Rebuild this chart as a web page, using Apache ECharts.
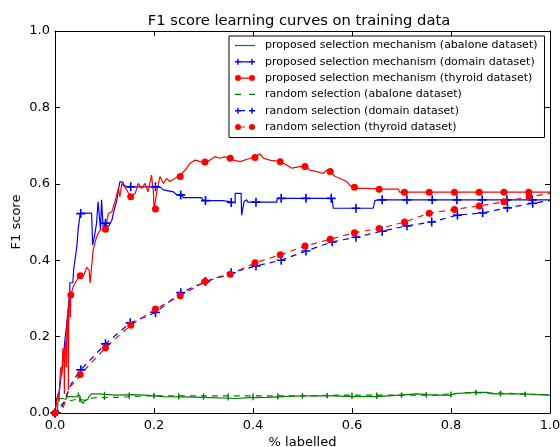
<!DOCTYPE html>
<html>
<head>
<meta charset="utf-8">
<script src="https://cdn.jsdelivr.net/npm/echarts@6/dist/echarts.min.js"></script>
<style>
  html, body { margin: 0; padding: 0; background: #fff; }
  #chart { width: 560px; height: 447px; }
</style>
</head>
<body>
<div id="chart"></div>
<script>
// ---- data: [fraction labelled, F1 score] ----
const xTicks = [0, 0.2, 0.4, 0.6, 0.8, 1.0];
const yTicks = [0, 0.2, 0.4, 0.6, 0.8, 1.0];

const seriesNames = [
  'proposed selection mechanism (abalone dataset)',
  'proposed selection mechanism (domain dataset)',
  'proposed selection mechanism (thyroid dataset)',
  'random selection (abalone dataset)',
  'random selection (domain dataset)',
  'random selection (thyroid dataset)'
];

const abaloneProposed = [
  [0,0],[0.005,0],[0.006,0.03],[0.009,0.03],[0.01,0.038],[0.015,0.038],[0.017,0.035],[0.022,0.036],
  [0.025,0.043],[0.032,0.043],[0.035,0.04],[0.04,0.042],[0.044,0.045],[0.05,0.047],[0.052,0.032],
  [0.057,0.025],[0.06,0.025],[0.061,0.034],[0.066,0.035],[0.068,0.042],[0.071,0.047],[0.074,0.05],
  [0.09,0.05],[0.1,0.049],[0.125,0.047],[0.158,0.048],[0.19,0.046],[0.219,0.043],[0.26,0.042],
  [0.3,0.041],[0.367,0.038],[0.394,0.04],[0.43,0.041],[0.461,0.043],[0.495,0.045],[0.562,0.045],
  [0.6,0.043],[0.65,0.043],[0.697,0.047],[0.731,0.05],[0.764,0.047],[0.798,0.047],[0.812,0.051],
  [0.845,0.054],[0.872,0.054],[0.885,0.05],[0.933,0.05],[0.966,0.049],[1.0,0.047]
];
const abaloneProposedMarks = [
  [0.047,0.047],[0.1,0.049],[0.15,0.048],[0.2,0.045],[0.25,0.042],[0.3,0.041],[0.35,0.039],
  [0.4,0.04],[0.45,0.042],[0.5,0.045],[0.55,0.045],[0.6,0.043],[0.65,0.043],[0.7,0.047],
  [0.75,0.048],[0.8,0.047],[0.85,0.054],[0.9,0.05],[0.95,0.049]
];

const domainProposed = [
  [0,0],[0.003,0.034],[0.009,0.06],[0.013,0.104],[0.017,0.147],[0.02,0.191],[0.024,0.235],
  [0.027,0.278],[0.03,0.322],[0.03,0.341],[0.036,0.341],[0.038,0.379],[0.042,0.381],[0.044,0.435],
  [0.047,0.484],[0.051,0.523],[0.074,0.523],[0.076,0.44],[0.079,0.457],[0.084,0.497],[0.087,0.553],
  [0.089,0.549],[0.092,0.479],[0.094,0.558],[0.096,0.514],[0.098,0.475],[0.101,0.497],[0.108,0.488],
  [0.115,0.505],[0.118,0.523],[0.125,0.558],[0.128,0.584],[0.131,0.605],[0.137,0.605],[0.139,0.597],
  [0.145,0.592],[0.212,0.592],[0.219,0.584],[0.239,0.579],[0.246,0.571],[0.256,0.571],[0.259,0.564],
  [0.296,0.564],[0.3,0.556],[0.34,0.556],[0.343,0.552],[0.364,0.551],[0.364,0.575],[0.376,0.575],
  [0.377,0.518],[0.379,0.518],[0.382,0.553],[0.387,0.558],[0.39,0.552],[0.448,0.552],[0.449,0.562],
  [0.56,0.562],[0.562,0.536],[0.643,0.536],[0.646,0.556],[0.652,0.558],[1.0,0.558]
];
const domainProposedMarks = [
  [0,0],[0.052,0.522],[0.102,0.497],[0.153,0.592],[0.203,0.592],[0.254,0.571],[0.304,0.556],
  [0.356,0.551],[0.406,0.552],[0.457,0.562],[0.507,0.562],[0.558,0.562],[0.608,0.536],[0.661,0.558],
  [0.711,0.558],[0.762,0.558],[0.812,0.558],[0.863,0.558],[0.913,0.558],[0.964,0.558]
];

const thyroidProposed = [
  [0,0],[0.004,0],[0.006,0.05],[0.008,0.03],[0.01,0.09],[0.012,0.12],[0.014,0.1],[0.016,0.17],
  [0.018,0.15],[0.019,0.05],[0.02,0.17],[0.022,0.19],[0.023,0.12],[0.024,0.23],[0.026,0.27],
  [0.027,0.06],[0.028,0.29],[0.03,0.3],[0.031,0.25],[0.032,0.31],[0.034,0.31],[0.037,0.331],
  [0.04,0.33],[0.045,0.35],[0.051,0.359],[0.058,0.36],[0.064,0.381],[0.069,0.374],[0.071,0.34],
  [0.073,0.335],[0.077,0.427],[0.084,0.461],[0.091,0.479],[0.101,0.479],[0.104,0.48],[0.108,0.523],
  [0.115,0.527],[0.121,0.553],[0.128,0.588],[0.131,0.566],[0.135,0.601],[0.138,0.601],[0.145,0.584],
  [0.152,0.566],[0.162,0.575],[0.168,0.601],[0.175,0.588],[0.182,0.601],[0.188,0.579],[0.195,0.623],
  [0.199,0.575],[0.2,0.534],[0.204,0.534],[0.207,0.588],[0.212,0.619],[0.219,0.601],[0.226,0.614],
  [0.232,0.606],[0.242,0.614],[0.253,0.623],[0.263,0.636],[0.273,0.654],[0.283,0.662],[0.293,0.658],
  [0.303,0.655],[0.313,0.662],[0.323,0.671],[0.333,0.667],[0.343,0.671],[0.354,0.664],[0.374,0.658],
  [0.394,0.667],[0.404,0.671],[0.414,0.678],[0.421,0.667],[0.434,0.662],[0.455,0.658],[0.468,0.649],
  [0.478,0.641],[0.495,0.645],[0.505,0.645],[0.515,0.636],[0.529,0.632],[0.542,0.627],[0.549,0.636],
  [0.556,0.632],[0.566,0.619],[0.576,0.614],[0.589,0.606],[0.599,0.592],[0.609,0.588],[0.63,0.588],
  [0.657,0.586],[0.694,0.586],[0.696,0.578],[1.0,0.578]
];
const thyroidProposedMarks = [
  [0,0],[0.032,0.309],[0.051,0.359],[0.102,0.481],[0.153,0.566],[0.203,0.534],[0.253,0.619],
  [0.303,0.657],[0.354,0.667],[0.404,0.669],[0.455,0.658],[0.505,0.645],[0.556,0.632],[0.605,0.591],
  [0.655,0.586],[0.706,0.578],[0.756,0.578],[0.807,0.578],[0.857,0.578],[0.907,0.578],[0.957,0.578]
];

const abaloneRandom = [
  [0,0],[0.006,0],[0.008,0.015],[0.013,0.021],[0.017,0.027],[0.03,0.032],[0.044,0.036],[0.057,0.034],
  [0.064,0.032],[0.071,0.038],[0.081,0.04],[0.125,0.041],[0.192,0.045],[0.259,0.045],[0.327,0.045],
  [0.394,0.045],[0.461,0.045],[0.495,0.045],[0.596,0.047],[0.67,0.047],[0.764,0.047],[0.832,0.053],
  [0.899,0.052],[1.0,0.047]
];
const abaloneRandomMarks = [
  [0.05,0.035],[0.1,0.041],[0.15,0.043],[0.2,0.045],[0.25,0.045],[0.3,0.045],[0.35,0.045],
  [0.4,0.045],[0.45,0.045],[0.5,0.045],[0.55,0.046],[0.6,0.047],[0.65,0.047],[0.7,0.047],
  [0.75,0.047],[0.8,0.05],[0.85,0.053],[0.9,0.052],[0.95,0.049]
];

const domainRandom = [
  [0,0],[0.01,0],[0.015,0.02],[0.02,0.034],[0.027,0.06],[0.037,0.086],[0.052,0.113],[0.102,0.181],
  [0.152,0.236],[0.203,0.263],[0.254,0.315],[0.304,0.344],[0.356,0.367],[0.406,0.385],[0.457,0.4],
  [0.507,0.424],[0.56,0.448],[0.608,0.46],[0.661,0.476],[0.711,0.49],[0.761,0.5],[0.813,0.518],
  [0.864,0.524],[0.914,0.537],[0.965,0.549],[1.0,0.556]
];
const domainRandomMarks = [
  [0,0],[0.052,0.113],[0.102,0.181],[0.152,0.236],[0.203,0.263],[0.254,0.315],[0.304,0.344],
  [0.356,0.367],[0.406,0.385],[0.457,0.4],[0.507,0.424],[0.56,0.448],[0.608,0.46],[0.661,0.476],
  [0.711,0.49],[0.761,0.5],[0.813,0.518],[0.864,0.524],[0.914,0.537],[0.965,0.549]
];

const thyroidRandom = [
  [0,0],[0.01,0],[0.017,0.016],[0.024,0.043],[0.03,0.069],[0.044,0.086],[0.051,0.101],[0.102,0.171],
  [0.153,0.23],[0.203,0.272],[0.253,0.307],[0.303,0.344],[0.354,0.363],[0.404,0.393],[0.455,0.414],
  [0.505,0.437],[0.556,0.455],[0.605,0.472],[0.655,0.483],[0.706,0.5],[0.756,0.523],[0.807,0.533],
  [0.857,0.542],[0.907,0.553],[0.958,0.566],[1.0,0.575]
];
const thyroidRandomMarks = [
  [0,0],[0.051,0.101],[0.102,0.171],[0.153,0.23],[0.203,0.272],[0.253,0.307],[0.303,0.344],
  [0.354,0.363],[0.404,0.393],[0.455,0.414],[0.505,0.437],[0.556,0.455],[0.605,0.472],[0.655,0.483],
  [0.706,0.5],[0.756,0.523],[0.807,0.533],[0.857,0.542],[0.907,0.553],[0.958,0.566]
];

// ---- styling ----
const FONT = 'DejaVu Sans';
const GREEN = '#008000', BLUE = '#0000ff', RED = '#ff0000';
const PLUS = 'path://M4.1,0H5.9V10H4.1Z M0,4.1H10V5.9H0Z';

// legend samples: line segment with a marker at each end (bbox 20 x 6)
const circleAt = cx => `M${cx - 3},3A3,3,0,1,1,${cx + 3},3A3,3,0,1,1,${cx - 3},3Z`;
const plusAt = cx => `M${cx - 0.7},0H${cx + 0.7}V6H${cx - 0.7}Z M${cx - 3},2.3H${cx + 3}V3.7H${cx - 3}Z`;
const legendIcons = [
  'path://M0,2.4H20V3.6H0Z',
  'path://M6,2.4H14V3.6H6Z ' + plusAt(3) + ' ' + plusAt(17),
  'path://M6,2.4H14V3.6H6Z ' + circleAt(3) + ' ' + circleAt(17),
  'path://M0,2.4H6V3.6H0Z M14,2.4H20V3.6H14Z',
  'path://M6,2.4H10V3.6H6Z ' + plusAt(3) + ' ' + plusAt(17),
  'path://M6,2.4H10V3.6H6Z ' + circleAt(3) + ' ' + circleAt(17)
];

function lineSeries(name, data, color, dashed) {
  return {
    name, type: 'line', data, color,
    showSymbol: false, symbol: 'none',
    lineStyle: { color, width: 1.2, type: dashed ? [6, 5] : 'solid' },
    clip: true, z: 2
  };
}
function markSeries(data, color, symbol, size) {
  return {
    type: 'scatter', data, symbol, symbolSize: size,
    itemStyle: { color, opacity: 1 }, clip: false, z: 3, silent: true
  };
}

const axisCommon = {
  type: 'value', min: 0, max: 1, interval: 0.2,
  splitLine: { show: false },
  axisLine: { show: true, onZero: false, lineStyle: { color: '#000', width: 1 } },
  axisTick: { show: true, inside: true, length: 5, lineStyle: { color: '#000', width: 1 } }
};
const labelStyle = { color: '#000', fontFamily: FONT, fontSize: 13, formatter: v => v.toFixed(1) };

const chart = echarts.init(document.getElementById('chart'), null, { renderer: 'canvas' });
chart.setOption({
  animation: false,
  backgroundColor: '#fff',
  title: {
    text: 'F1 score learning curves on training data',
    left: 294, top: 9, textAlign: 'center',
    textStyle: { fontFamily: FONT, fontSize: 14.7, fontWeight: 'normal', color: '#000' }
  },
  grid: { left: 55, right: 10, top: 31, bottom: 34, containLabel: false, outerBoundsMode: 'none' },
  xAxis: [
    Object.assign({}, axisCommon, {
      position: 'bottom', name: '% labelled', nameLocation: 'middle', nameGap: 23,
      nameMoveOverlap: false,
      nameTextStyle: { fontFamily: FONT, fontSize: 13, color: '#000' },
      axisLabel: Object.assign({ margin: 6, showMinLabel: true, showMaxLabel: true }, labelStyle)
    }),
    Object.assign({}, axisCommon, { position: 'top', axisLabel: { show: false } })
  ],
  yAxis: [
    Object.assign({}, axisCommon, {
      position: 'left', name: 'F1 score', nameLocation: 'middle', nameGap: 32,
      nameMoveOverlap: false,
      nameTextStyle: { fontFamily: FONT, fontSize: 13, color: '#000', verticalAlign: 'bottom' },
      axisLabel: Object.assign({ margin: 5 }, labelStyle)
    }),
    Object.assign({}, axisCommon, { position: 'right', axisLabel: { show: false } })
  ],
  legend: {
    orient: 'vertical', left: 229, top: 36,
    padding: [4, 7, 5, 6], itemGap: 5.3, itemWidth: 20, itemHeight: 6,
    borderColor: '#000', borderWidth: 1, borderRadius: 0, backgroundColor: '#fff',
    selectedMode: false,
    itemStyle: { borderWidth: 0 },
    textStyle: { fontFamily: FONT, fontSize: 11, color: '#000', padding: [0, 0, 0, 5] },
    data: seriesNames.map((name, i) => ({ name, icon: legendIcons[i] }))
  },
  series: [
    lineSeries(seriesNames[0], abaloneProposed, GREEN, false),
    markSeries(abaloneProposedMarks, GREEN, 'rect', [1.3, 5]),
    lineSeries(seriesNames[1], domainProposed, BLUE, false),
    markSeries(domainProposedMarks, BLUE, PLUS, 9),
    lineSeries(seriesNames[2], thyroidProposed, RED, false),
    markSeries(thyroidProposedMarks, RED, 'circle', 7),
    lineSeries(seriesNames[3], abaloneRandom, GREEN, true),
    markSeries(abaloneRandomMarks, GREEN, 'rect', [1.3, 5]),
    lineSeries(seriesNames[4], domainRandom, BLUE, true),
    markSeries(domainRandomMarks, BLUE, PLUS, 9),
    lineSeries(seriesNames[5], thyroidRandom, RED, true),
    markSeries(thyroidRandomMarks, RED, 'circle', 7)
  ]
});
</script>
</body>
</html>
